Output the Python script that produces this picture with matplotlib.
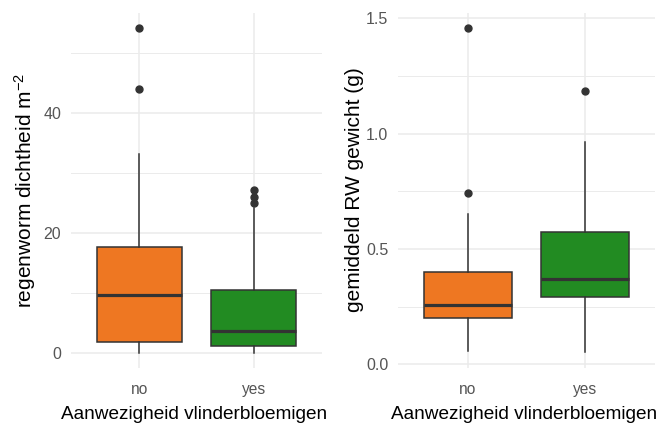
import matplotlib
matplotlib.use("Agg")
import matplotlib.pyplot as plt

# ---- data ----
categories = ["no", "yes"]
box_colors = ["#EE7722", "#228B22"]

# left panel: regenworm dichtheid m^-2
dens_whislo = [0.0, 0.0]
dens_q1 = [1.9, 1.2]
dens_med = [9.8, 3.7]
dens_q3 = [17.8, 10.5]
dens_whishi = [33.2, 24.3]
dens_fliers = [[44.0, 54.2], [25.0, 26.1, 27.2]]

# right panel: gemiddeld RW gewicht (g)
wt_whislo = [0.059, 0.053]
wt_q1 = [0.202, 0.293]
wt_med = [0.259, 0.370]
wt_q3 = [0.399, 0.573]
wt_whishi = [0.651, 0.963]
wt_fliers = [[0.743, 1.458], [1.187]]

plt.rcParams["font.family"] = ["Liberation Sans", "DejaVu Sans"]
plt.rcParams["mathtext.fontset"] = "custom"
plt.rcParams["mathtext.rm"] = "Liberation Sans"
plt.rcParams["mathtext.it"] = "Liberation Sans:italic"

W, H = 664, 426
fig = plt.figure(figsize=(W / 100, H / 100), dpi=100)

def px_axes(x0, x1, y0, y1):
    return fig.add_axes([x0 / W, 1 - y1 / H, (x1 - x0) / W, (y1 - y0) / H])

def make_stats(lo, q1, med, q3, hi, fl):
    return [dict(whislo=lo[i], q1=q1[i], med=med[i], q3=q3[i], whishi=hi[i],
                 fliers=fl[i], label=categories[i]) for i in range(len(categories))]

def style(ax, ylim, major, minor, fmt):
    ax.set_xlim(0.4, 2.6)
    ax.set_ylim(*ylim)
    for s in ax.spines.values():
        s.set_visible(False)
    ax.set_yticks(major)
    ax.set_yticklabels([fmt.format(v) for v in major])
    ax.set_yticks(minor, minor=True)
    ax.set_xticks([1, 2])
    ax.set_xticklabels(categories)
    ax.grid(True, which="major", color="#EBEBEB", lw=1.1, zorder=0)
    ax.grid(True, which="minor", axis="y", color="#EBEBEB", lw=0.7, zorder=0)
    ax.set_axisbelow(True)
    ax.tick_params(which="both", length=0)
    ax.tick_params(axis="y", pad=7, labelsize=11.5, labelcolor="#555555")
    ax.tick_params(axis="x", pad=10, labelsize=11.2, labelcolor="#555555")

def draw(ax, stats):
    bp = ax.bxp(stats, positions=[1, 2], widths=0.75, patch_artist=True,
                showcaps=False,
                boxprops=dict(edgecolor="#333333", linewidth=1.1),
                medianprops=dict(color="#333333", linewidth=2.3, solid_capstyle="butt"),
                whiskerprops=dict(color="#333333", linewidth=1.1),
                flierprops=dict(marker="o", markerfacecolor="#333333",
                                markeredgecolor="#333333", markersize=5),
                zorder=2)
    for patch, c in zip(bp["boxes"], box_colors):
        patch.set_facecolor(c)

ax1 = px_axes(71, 322, 12.7, 368)
draw(ax1, make_stats(dens_whislo, dens_q1, dens_med, dens_q3, dens_whishi, dens_fliers))
style(ax1, (-2.45, 56.77), [0, 20, 40], [10, 30, 50], "{:.0f}")

ax2 = px_axes(398, 655, 12.7, 368)
draw(ax2, make_stats(wt_whislo, wt_q1, wt_med, wt_q3, wt_whishi, wt_fliers))
style(ax2, (-0.016, 1.525), [0, 0.5, 1.0, 1.5], [0.25, 0.75, 1.25], "{:.1f}")

# axis titles
fig.text(25 / W, 1 - 190 / H, r"regenworm dichtheid m$^{-2}$", rotation=90,
         ha="center", va="center", fontsize=15, color="black")
fig.text(355 / W, 1 - 190 / H, "gemiddeld RW gewicht (g)", rotation=90,
         ha="center", va="center", fontsize=15, color="black")
fig.text(194 / W, 7 / H, "Aanwezigheid vlinderbloemigen", ha="center",
         va="baseline", fontsize=13.7, color="black")
fig.text(524 / W, 7 / H, "Aanwezigheid vlinderbloemigen", ha="center",
         va="baseline", fontsize=13.7, color="black")

fig.savefig("out.png", dpi=100, facecolor="white")
